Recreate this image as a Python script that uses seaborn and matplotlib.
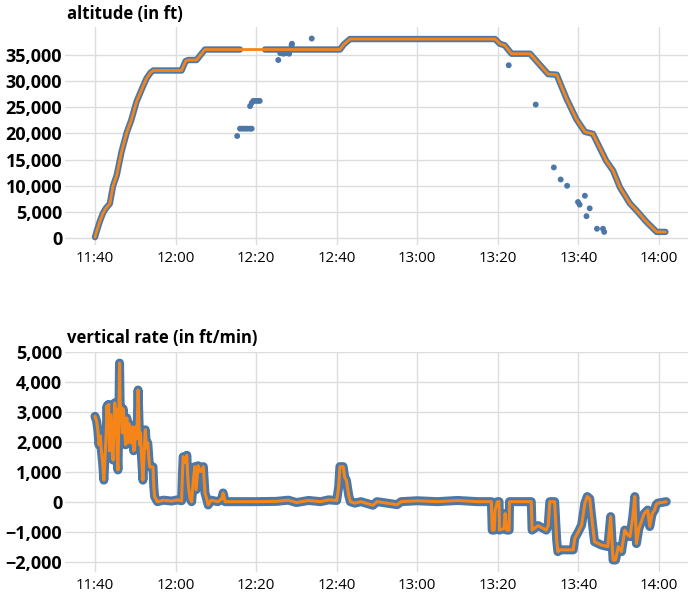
import numpy as np
import pandas as pd
import matplotlib.pyplot as plt
import matplotlib.dates as mdates
import matplotlib.ticker as mticker
import seaborn as sns

# --- Data (minutes after 11:40) ---
alt_minutes = [0, 0.5, 1.2, 2.0, 2.7, 3.7, 4.5, 5.4, 6.6, 7.9, 9.0, 10.3, 11.6,
               12.8, 13.8, 14.5, 21.5, 22.5, 23.2, 25.2, 27.3, 36.0, 42.2, 60.8,
               61.8, 63.3, 99.3, 100.5, 101.7, 103.4, 108.0, 110.4, 112.5, 114.6,
               117.0, 119.5, 121.6, 123.6, 126.9, 128.6, 130.3, 132.8, 134.4,
               136.9, 139.4, 141.6]
alt_feet = [200, 1500, 3200, 4800, 5700, 6600, 10000, 12000, 16500, 20200, 22500,
            26000, 28400, 30500, 31600, 32000, 32000, 33800, 34000, 34000, 36000,
            36000, 36000, 36000, 37000, 38000, 38000, 37100, 36800, 35200, 35200,
            33100, 31300, 31200, 26700, 22700, 20300, 19900, 14750, 12900, 9700,
            6600, 5300, 3100, 1200, 1200]

# stray altitude reports (blue only)
odd_minutes = [35.3, 36.0, 36.6, 37.2, 37.8, 38.4, 38.9, 38.5, 38.9, 39.3, 39.9,
               40.4, 40.9, 45.5, 46.0, 46.8, 47.5, 48.2, 48.8, 48.9, 53.8, 102.7,
               109.4, 113.9, 115.6, 117.2, 119.9, 120.3, 121.6, 122.8, 122.0,
               124.6, 126.1, 126.4]
odd_feet = [19500, 20900, 20900, 20900, 20900, 20900, 20900, 25200, 25800, 26200,
            26200, 26200, 26200, 34000, 35300, 35200, 35300, 35200, 36800, 37100,
            38100, 33000, 25500, 13500, 11200, 10000, 6900, 6400, 8100, 5700, 4200,
            1800, 1800, 1200]

rate_minutes = [0.0, 0.4, 0.7, 1.0, 1.3, 1.6, 1.9, 2.2, 2.5, 2.8, 3.0, 3.2, 3.4,
                3.6, 3.9, 4.2, 4.5, 4.7, 4.9, 5.1, 5.3, 5.5, 5.7, 5.9, 6.1, 6.3,
                6.5, 6.8, 7.0, 7.3, 7.6, 7.9, 8.2, 8.5, 8.8, 9.0, 9.3, 9.6, 9.8,
                10.1, 10.4, 10.7, 10.9, 11.1, 11.3, 11.6, 11.9, 12.2, 12.5, 12.8,
                13.1, 13.4, 13.6, 14.4, 14.6, 14.8, 15.5, 17.0, 19.0, 20.5, 21.5,
                21.7, 21.9, 22.3, 22.8, 23.0, 23.2, 23.6, 24.0, 24.4, 24.8, 25.1,
                25.6, 26.2, 26.9, 27.3, 27.7, 28.1, 28.8, 30.5, 31.5, 31.8, 32.3,
                40.0, 45.0, 48.0, 50.0, 53.0, 56.0, 58.0, 60.0, 60.5, 60.8, 61.6,
                62.0, 62.4, 63.0, 63.4, 64.5, 66.0, 69.0, 70.0, 75.0, 76.0, 80.0,
                85.0, 90.0, 95.0, 98.4, 98.6, 99.1, 99.3, 99.9, 100.3, 100.4, 101.5,
                101.8, 102.2, 102.8, 102.9, 108.3, 108.5, 110.0, 112.0, 112.5,
                112.9, 114.1, 114.6, 114.9, 115.3, 118.7, 119.1, 120.0, 120.8,
                121.6, 122.2, 122.8, 123.2, 124.0, 125.7, 127.3, 128.0, 128.6,
                129.2, 129.9, 130.7, 131.5, 132.2, 132.8, 133.5, 134.0, 134.4,
                135.0, 135.5, 136.3, 137.2, 137.7, 138.3, 138.9, 139.3, 139.7, 141.8]
rate_fpm = [2850, 2700, 2400, 1900, 2200, 1700, 1300, 720, 1500, 2300, 3200, 2400,
            3250, 1700, 2900, 1800, 1390, 2600, 3300, 2200, 3100, 1600, 1060, 2500,
            4630, 2800, 3160, 2300, 3100, 2500, 1900, 2800, 1960, 2600, 2200, 1960,
            2500, 1700, 1730, 2500, 2100, 3730, 2800, 1900, 2300, 1400, 720, 1600,
            2400, 1800, 1960, 1400, 1160, 1160, 500, 170, 0, 50, 20, 60, 30, 900,
            1500, 1300, 1550, 900, 500, 100, 0, 700, 1170, 400, 1200, 1000, 1170,
            290, 100, -110, 50, 0, 100, 290, 0, 0, 10, 50, -30, 40, 0, 60, 40, 500,
            1170, 1170, 800, 720, 200, 0, -50, 0, -120, 0, -100, 0, 30, 0, 40, 0, 0,
            -950, -950, -300, 0, 0, -950, -900, -400, -950, -950, 0, 0, -950, -800,
            -950, -800, 0, 0, -1280, -1670, -1610, -1610, -1220, -1000, -780, -50,
            170, 100, -400, -1340, -1450, -1500, -500, -1950, -1950, -1500, -1670,
            -950, -1100, -1170, -500, 170, -1400, -900, -720, -400, -280, -830,
            -400, -280, -100, -50, 0]

start = pd.Timestamp("2024-01-01 11:40")
def to_time(mins):
    return start + pd.to_timedelta(mins, unit="min")

alt = pd.DataFrame({"time": to_time(alt_minutes), "alt": alt_feet, "m": alt_minutes})
odd = pd.DataFrame({"time": to_time(odd_minutes), "alt": odd_feet})
rate = pd.DataFrame({"time": to_time(rate_minutes), "rate": rate_fpm})

BLUE = "#4c78a8"
ORANGE = "#f58518"

sns.set_theme(style="whitegrid")
plt.rcParams["font.family"] = ["Open Sans", "DejaVu Sans"]

fig = plt.figure(figsize=(6.88, 5.95), dpi=100)
ax1 = fig.add_axes([65 / 688, 1 - 245 / 595, 623 / 688, 218 / 595])
ax2 = fig.add_axes([65 / 688, 1 - 572 / 595, 623 / 688, 220 / 595])

# altitude: blue band (with gap), stray points, orange line
for seg in [alt[alt.m <= 36.0], alt[alt.m >= 42.2]]:
    sns.lineplot(data=seg, x="time", y="alt", ax=ax1, color=BLUE, lw=4.6,
                 solid_capstyle="round", estimator=None)
sns.scatterplot(data=odd, x="time", y="alt", ax=ax1, color=BLUE, s=18,
                edgecolor="none")
sns.lineplot(data=alt, x="time", y="alt", ax=ax1, color=ORANGE, lw=2.0,
             estimator=None)

# vertical rate
sns.lineplot(data=rate, x="time", y="rate", ax=ax2, color=BLUE, lw=6.5,
             solid_capstyle="round", solid_joinstyle="round", estimator=None)
sns.lineplot(data=rate, x="time", y="rate", ax=ax2, color=ORANGE, lw=2.2,
             estimator=None)
sns.scatterplot(data=rate, x="time", y="rate", ax=ax2, color=ORANGE, s=8,
                edgecolor="none")

xmin, xmax = to_time(-7.44), to_time(147.2)
ax1.set_ylim(-1300, 40300)
ax2.set_ylim(-2350, 5000)
ax1.yaxis.set_major_locator(mticker.FixedLocator(np.arange(0, 35001, 5000)))
ax2.yaxis.set_major_locator(mticker.FixedLocator(np.arange(-2000, 5001, 1000)))

ticks = [to_time(m) for m in range(0, 141, 20)]
for ax in (ax1, ax2):
    ax.set_xlim(xmin, xmax)
    ax.set_xticks(ticks)
    ax.xaxis.set_major_formatter(mdates.DateFormatter("%H:%M"))
    ax.yaxis.set_major_formatter(mticker.StrMethodFormatter("{x:,.0f}"))
    ax.set_xlabel("")
    ax.set_ylabel("")
    ax.set_facecolor("white")
    ax.grid(True, color="#dddddd", lw=1)
    for s in ax.spines.values():
        s.set_visible(False)
    ax.tick_params(axis="y", length=0, pad=2, labelsize=13, labelcolor="black")
    ax.tick_params(axis="x", length=0, pad=4, labelsize=10.8, labelcolor="black")
    for lab in ax.get_yticklabels():
        lab.set_fontweight("bold")

fig.text(67 / 688, 1 - 14 / 595, "altitude (in ft)", fontsize=12,
         fontweight="bold", va="center", ha="left", color="black")
fig.text(67 / 688, 1 - 338 / 595, "vertical rate (in ft/min)", fontsize=12,
         fontweight="bold", va="center", ha="left", color="black")

fig.savefig("out.png", dpi=100)
